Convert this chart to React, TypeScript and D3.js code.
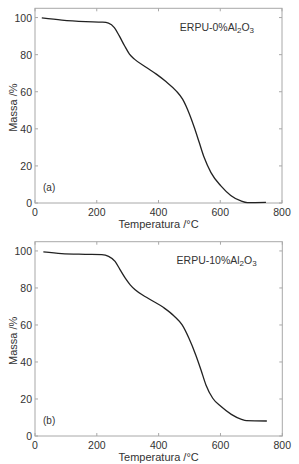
import React from "react";
import * as d3 from "d3";

// TGA curves: temperature (°C) and remaining mass (%)
const tempA = [22, 87, 164, 219, 238, 257, 273, 290, 306, 322, 361, 393, 424, 457, 478, 500, 516, 532, 548, 570, 602, 634, 667, 688, 748];
const massA = [99.8, 98.6, 97.8, 97.5, 97, 94.6, 90.1, 84.8, 80.3, 77.6, 73.1, 69.5, 65.5, 60.5, 56, 48, 40.7, 32.6, 24.5, 16.4, 9.2, 4.1, 1.1, 0.2, 0.3];

const tempB = [27, 86, 162, 216, 238, 259, 275, 292, 308, 324, 367, 416, 449, 476, 498, 520, 537, 553, 575, 602, 635, 668, 684, 750];
const massB = [99.5, 98.6, 98.2, 98, 97.1, 94.4, 89.9, 85.3, 81.7, 79, 74.3, 69.4, 65, 60, 52.8, 43.8, 35.7, 27.6, 20.4, 15.9, 11.7, 9, 8.3, 8.1];

const xTicks = [0, 200, 400, 600, 800];
const yTicks = [0, 20, 40, 60, 80, 100];
const xTitle = "Temperatura /°C";
const yTitle = "Massa /%";

const W = 299;
const H = 464;
const FONT = "'Liberation Sans', Arial, sans-serif";

type PanelProps = {
  temps: number[];
  mass: number[];
  top: number;
  bottom: number;
  left: number;
  right: number;
  pct: string;
  tag: string;
  labelT: number;
};

const Panel = ({ temps, mass, top, bottom, left, right, pct, tag, labelT }: PanelProps) => {
  const x = d3.scaleLinear().domain([0, 800]).range([left, right]);
  const y = d3.scaleLinear().domain([0, 105]).range([bottom, top]);
  const pts: [number, number][] = temps.map((t, i) => [t, mass[i]]);
  const line = d3
    .line<[number, number]>()
    .x((d) => x(d[0]))
    .y((d) => y(d[1]))
    .curve(d3.curveMonotoneX);

  const tickLen = 3;
  const gray = "#a8a8a8";

  return (
    <g>
      {/* box */}
      <rect x={left} y={top} width={right - left} height={bottom - top} fill="white" stroke={gray} strokeWidth={1} />
      {xTicks.map((t) => (
        <g key={"x" + t}>
          <line x1={x(t)} x2={x(t)} y1={bottom} y2={bottom - tickLen} stroke={gray} />
          <line x1={x(t)} x2={x(t)} y1={top} y2={top + tickLen} stroke={gray} />
          <text x={x(t)} y={bottom + 8.5} textAnchor="middle" dominantBaseline="central" fontSize={10.5} fill="#333">
            {t}
          </text>
        </g>
      ))}
      {yTicks.map((t) => (
        <g key={"y" + t}>
          <line x1={left} x2={left + tickLen} y1={y(t)} y2={y(t)} stroke={gray} />
          <line x1={right} x2={right - tickLen} y1={y(t)} y2={y(t)} stroke={gray} />
          <text x={left - 3} y={y(t)} textAnchor="end" dominantBaseline="central" fontSize={10.5} fill="#333">
            {t}
          </text>
        </g>
      ))}
      <path d={line(pts) ?? ""} fill="none" stroke="#222" strokeWidth={1.3} />
      <text x={(left + right) / 2} y={bottom + 21} textAnchor="middle" dominantBaseline="central" fontSize={11} fill="#333">
        {xTitle}
      </text>
      <text
        transform={`translate(13,${(top + bottom) / 2 + 2}) rotate(-90)`}
        textAnchor="middle"
        dominantBaseline="central"
        fontSize={11}
        fill="#333"
      >
        {yTitle}
      </text>
      <text x={x(labelT)} y={y(93)} fontSize={10.5} fill="#333">
        {`ERPU-${pct}%Al`}
        <tspan fontSize={8} dy={2}>2</tspan>
        <tspan dy={-2}>O</tspan>
        <tspan fontSize={8} dy={2}>3</tspan>
      </text>
      <text x={x(26)} y={y(6.5)} fontSize={10} fill="#333">
        {tag}
      </text>
    </g>
  );
};

export default function App() {
  return (
    <svg
      width={W}
      height={H}
      style={{ position: "absolute", left: 0, top: 0, background: "white", fontFamily: FONT }}
    >
      <Panel temps={tempA} mass={massA} top={8.3} bottom={203} left={35} right={282} pct="0" tag="(a)" labelT={469} />
      <Panel temps={tempB} mass={massB} top={241.7} bottom={436} left={35} right={282.3} pct="10" tag="(b)" labelT={458} />
    </svg>
  );
}
